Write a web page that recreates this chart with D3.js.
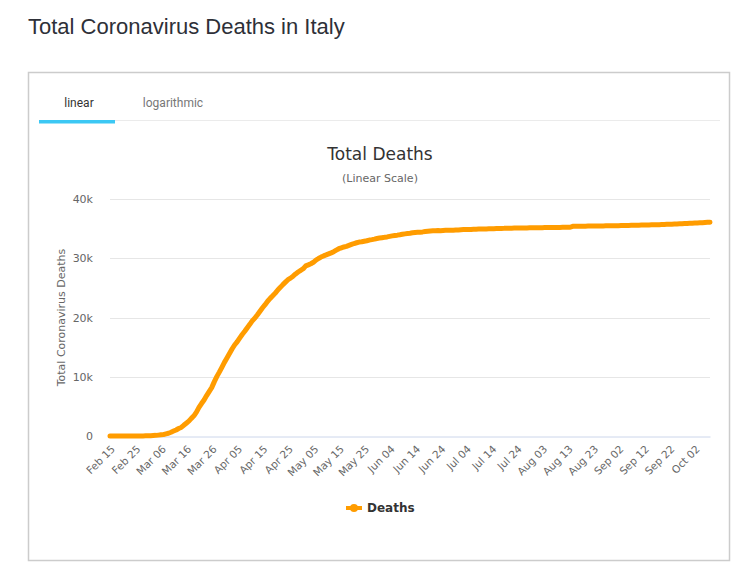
<!doctype html>
<html>

<head>
    <meta charset="utf-8">
    <title>Total Coronavirus Deaths in Italy</title>
    <style>
    body {
        margin: 0;
        background: #fff;
    }
    h1 {
        position: absolute;
        left: 28px;
        top: 14px;
        margin: 0;
        font: 22px "Liberation Sans", Arial, sans-serif;
        color: #2e3038;
    }
    svg {
        position: absolute;
        left: 0;
        top: 0;
    }
    </style>
    <script src="https://cdn.jsdelivr.net/npm/d3@7"></script>
</head>

<body>
    <h1>Total Coronavirus Deaths in Italy</h1>
    <svg width="740" height="572"></svg>
    <script>
    // first day of the series, one value per day after it
    var startDate = new Date(2020, 1, 15);

    var deaths = [
        // Feb 15 - Feb 29
        0, 0, 0, 0, 0, 0, 1, 2, 3, 7, 10, 12, 17, 21, 29,
        // Mar
        34, 52, 79, 107, 148, 197, 233, 366, 463, 631, 827, 1016, 1266, 1441, 1809, 2158,
        2503, 2978, 3405, 4032, 4825, 5476, 6077, 6820, 7503, 8165, 9134, 10023, 10779, 11591, 12428,
        // Apr
        13155, 13915, 14681, 15362, 15887, 16523, 17127, 17669, 18279, 18849, 19468, 19899, 20465, 21067, 21645,
        22170, 22745, 23227, 23660, 24114, 24648, 25085, 25549, 25969, 26384, 26644, 26977, 27359, 27682, 27967,
        // May
        28236, 28710, 28884, 29079, 29315, 29684, 29958, 30201, 30395, 30560, 30739, 30911, 31106, 31368, 31610,
        31763, 31908, 32007, 32169, 32330, 32486, 32616, 32735, 32785, 32877, 32955, 33072, 33142, 33229, 33340, 33415,
        // Jun
        33475, 33530, 33601, 33689, 33774, 33846, 33899, 33964, 34043, 34114, 34167, 34223, 34301, 34345, 34371,
        34405, 34448, 34514, 34561, 34610, 34634, 34657, 34675, 34644, 34678, 34708, 34716, 34738, 34744, 34767,
        // Jul
        34788, 34818, 34833, 34854, 34861, 34869, 34899, 34914, 34926, 34938, 34945, 34954, 34967, 34984, 34997,
        35017, 35028, 35042, 35045, 35058, 35073, 35082, 35092, 35097, 35102, 35107, 35112, 35123, 35129, 35132, 35141,
        // Aug
        35146, 35154, 35166, 35171, 35181, 35187, 35190, 35203, 35205, 35209, 35215, 35225, 35231, 35234, 35392,
        35396, 35400, 35405, 35412, 35418, 35427, 35430, 35437, 35441, 35445, 35458, 35463, 35472, 35473, 35477, 35483,
        // Sep
        35491, 35497, 35507, 35518, 35534, 35541, 35553, 35563, 35577, 35587, 35597, 35603, 35610, 35624, 35633,
        35645, 35658, 35668, 35692, 35707, 35724, 35738, 35758, 35781, 35801, 35818, 35835, 35851, 35875, 35894,
        // Oct 1 - Oct 8
        35918, 35941, 35968, 35986, 36002, 36030, 36061, 36083
    ];

    var tickLabels = ["Feb 15", "Feb 25", "Mar 06", "Mar 16", "Mar 26", "Apr 05", "Apr 15", "Apr 25",
        "May 05", "May 15", "May 25", "Jun 04", "Jun 14", "Jun 24", "Jul 04", "Jul 14", "Jul 24",
        "Aug 03", "Aug 13", "Aug 23", "Sep 02", "Sep 12", "Sep 22", "Oct 02"];

    var yTicks = [0, 10000, 20000, 30000, 40000];

    var fmt = d3.timeFormat("%b %d");
    var categories = deaths.map(function(d, i) { return fmt(d3.timeDay.offset(startDate, i)); });

    var svg = d3.select("svg"),
        font = "'DejaVu Sans', Verdana, sans-serif",
        plotLeft = 110, plotRight = 710, plotTop = 199, plotBottom = 436;

    // card + tabs
    svg.append("rect")
        .attr("x", 28.5).attr("y", 72.5)
        .attr("width", 701).attr("height", 488)
        .attr("fill", "#fff").attr("stroke", "#cccccc").attr("stroke-width", 1.5);

    svg.append("line")
        .attr("x1", 39).attr("x2", 720).attr("y1", 120.5).attr("y2", 120.5)
        .attr("stroke", "#ebebeb");
    svg.append("rect")
        .attr("x", 39).attr("y", 120).attr("width", 76).attr("height", 3.5)
        .attr("fill", "#3cc8f4");

    svg.append("text").text("linear")
        .attr("x", 79).attr("y", 107).attr("text-anchor", "middle")
        .style("font", "12px Roboto, 'Open Sans', sans-serif").attr("fill", "#333");
    svg.append("text").text("logarithmic")
        .attr("x", 173).attr("y", 107).attr("text-anchor", "middle")
        .style("font", "12px Roboto, 'Open Sans', sans-serif").attr("fill", "#777");

    // chart titles
    svg.append("text").text("Total Deaths")
        .attr("x", 380).attr("y", 160).attr("text-anchor", "middle")
        .style("font-family", font).style("font-size", "17px").attr("fill", "#333");
    svg.append("text").text("(Linear Scale)")
        .attr("x", 380).attr("y", 182).attr("text-anchor", "middle")
        .style("font-family", font).style("font-size", "11px").attr("fill", "#666");

    var x = d3.scalePoint().domain(categories).range([plotLeft, plotRight]);
    var y = d3.scaleLinear().domain([0, 40000]).range([plotBottom, plotTop]);

    // grid
    svg.append("g").selectAll("line")
        .data(yTicks.slice(1))
        .enter().append("line")
        .attr("x1", plotLeft).attr("x2", plotRight)
        .attr("y1", function(d) { return Math.round(y(d)) + 0.5; })
        .attr("y2", function(d) { return Math.round(y(d)) + 0.5; })
        .attr("stroke", "#e6e6e6");

    var yAxis = svg.append("g")
        .attr("transform", "translate(" + (plotLeft - 14) + ",0)")
        .call(d3.axisLeft(y).tickValues(yTicks).tickSize(0)
            .tickFormat(function(d) { return d === 0 ? "0" : (d / 1000) + "k"; }));
    yAxis.select(".domain").remove();
    yAxis.selectAll("text")
        .style("font-family", font).style("font-size", "11px").attr("fill", "#666");

    svg.append("text").text("Total Coronavirus Deaths")
        .attr("transform", "translate(65," + ((plotTop + plotBottom) / 2) + ") rotate(-90)")
        .attr("text-anchor", "middle")
        .style("font-family", font).style("font-size", "11px").attr("fill", "#666");

    var xAxis = svg.append("g")
        .attr("transform", "translate(0," + (plotBottom + 0.5) + ")")
        .call(d3.axisBottom(x).tickValues(tickLabels).tickSize(0).tickSizeOuter(0));
    xAxis.select(".domain").attr("stroke", "#ccd6eb");
    xAxis.selectAll("text")
        .style("font-family", font).style("font-size", "10.5px").attr("fill", "#666")
        .attr("text-anchor", "end")
        .attr("transform", "translate(-2,6) rotate(-45)")
        .attr("dy", "0.7em");

    // series
    var line = d3.line()
        .x(function(d, i) { return x(categories[i]); })
        .y(function(d) { return y(d); });

    svg.append("path")
        .datum(deaths)
        .attr("d", line)
        .attr("fill", "none")
        .attr("stroke", "#ff9c00")
        .attr("stroke-width", 5)
        .attr("stroke-linejoin", "round")
        .attr("stroke-linecap", "round");

    // legend
    var legend = svg.append("g").attr("transform", "translate(346,508)");
    legend.append("line").attr("x1", 0).attr("x2", 16).attr("y1", 0).attr("y2", 0)
        .attr("stroke", "#ff9c00").attr("stroke-width", 4);
    legend.append("circle").attr("cx", 8).attr("cy", 0).attr("r", 4).attr("fill", "#ff9c00");
    legend.append("text").text("Deaths")
        .attr("x", 21).attr("y", 4)
        .style("font-family", font).style("font-size", "12px").style("font-weight", "bold").attr("fill", "#333");
    </script>
</body>

</html>
